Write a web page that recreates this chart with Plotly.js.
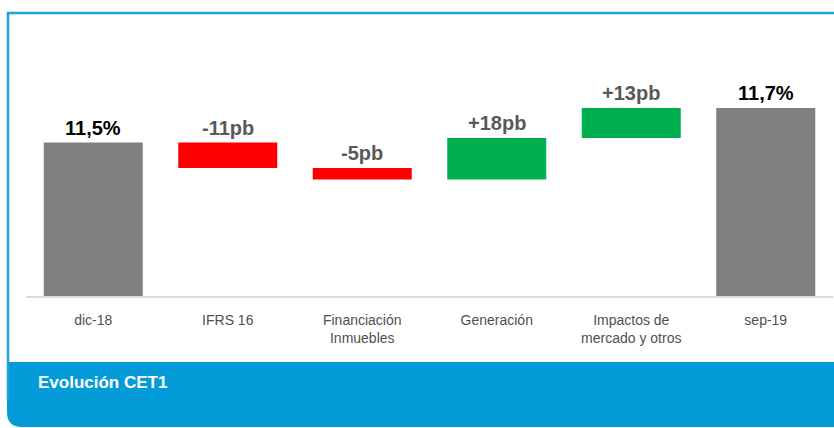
<!DOCTYPE html>
<html>
<head>
<meta charset="utf-8">
<script src="https://cdn.plot.ly/plotly-3.0.1.min.js"></script>
<style>
  html, body { margin: 0; padding: 0; background: #ffffff; }
  #chart { width: 834px; height: 428px; }
</style>
</head>
<body>
<div id="chart"></div>
<script>
// ---- data ----
const categories = ["dic-18", "IFRS 16", "Financiación<br>Inmuebles", "Generación", "Impactos de<br>mercado y otros", "sep-19"];
const measures = ["absolute", "relative", "relative", "relative", "relative", "total"];
const values = [11.5, -0.11, -0.05, 0.18, 0.13, 0];
const valueLabels = ["11,5%", "-11pb", "-5pb", "+18pb", "+13pb", "11,7%"];
const chartTitle = "Evolución CET1";

// ---- geometry helpers (pixel -> paper) ----
const W = 834, H = 428;
const M = { l: 26, r: 1, t: 40, b: 132 };
const PW = W - M.l - M.r, PH = H - M.t - M.b;
const px = v => (v - M.l) / PW;
const py = v => (H - M.b - v) / PH;

// label positions = top of each waterfall bar (computed from the data)
const labelY = [];
let run = 0;
measures.forEach((m, i) => {
  if (m === "absolute") { run = values[i]; labelY.push(run); }
  else if (m === "total") { labelY.push(run); }
  else { const prev = run; run = run + values[i]; labelY.push(Math.max(prev, run)); }
});
const labelColors = measures.map(m => (m === "relative" ? "#595959" : "#000000"));

const FONT = "Liberation Sans, Arial, sans-serif";

const traces = [
  {
    type: "waterfall",
    x: categories,
    y: values,
    measure: measures,
    connector: { visible: false },
    increasing: { marker: { color: "#00B050" } },
    decreasing: { marker: { color: "#FF0000" } },
    totals: { marker: { color: "#808080" } },
    textinfo: "none",
    hoverinfo: "skip"
  }
];

const valueAnnotations = categories.map((c, i) => ({
  x: c, y: labelY[i], xref: "x", yref: "y",
  xanchor: "center", yanchor: "bottom", yshift: 2,
  text: "<b>" + valueLabels[i] + "</b>",
  showarrow: false,
  font: { family: FONT, size: 20, color: labelColors[i] }
}));

const shapes = [
  {
    type: "path", xref: "paper", yref: "paper", layer: "below",
    path: `M ${px(7)},${py(362)} L ${px(850)},${py(362)} L ${px(850)},${py(427)} L ${px(22)},${py(427)} Q ${px(7)},${py(427)} ${px(7)},${py(412)} Z`,
    fillcolor: "#039BD8", line: { width: 0 }
  },
  {
    type: "path", xref: "paper", yref: "paper", layer: "below",
    path: `M ${px(8)},${py(400)} L ${px(8)},${py(13)} L ${px(850)},${py(13)}`,
    line: { color: "#1BA3E0", width: 2.5 }
  }
];

const layout = {
  width: W, height: H,
  margin: M,
  paper_bgcolor: "#ffffff",
  plot_bgcolor: "#ffffff",
  showlegend: false,
  waterfallgap: 0.264,
  xaxis: {
    type: "category",
    range: [-0.5, 5.5],
    showgrid: false,
    zeroline: false,
    showline: true,
    linecolor: "#D9D9D9",
    linewidth: 2,
    ticks: "outside",
    ticklen: 10,
    tickcolor: "rgba(0,0,0,0)",
    tickfont: { family: FONT, size: 14, color: "#505050" }
  },
  yaxis: {
    range: [10.833, 11.946],
    showgrid: false,
    zeroline: false,
    showticklabels: false,
    showline: false,
    ticks: ""
  },
  shapes: shapes,
  annotations: valueAnnotations.concat([
    {
      xref: "paper", yref: "paper",
      x: px(36), y: py(382),
      xanchor: "left", yanchor: "middle",
      text: "<b>" + chartTitle + "</b>",
      showarrow: false,
      font: { family: FONT, size: 17, color: "#ffffff" }
    }
  ])
};

Plotly.newPlot("chart", traces, layout, { staticPlot: true, displayModeBar: false });
</script>
</body>
</html>
